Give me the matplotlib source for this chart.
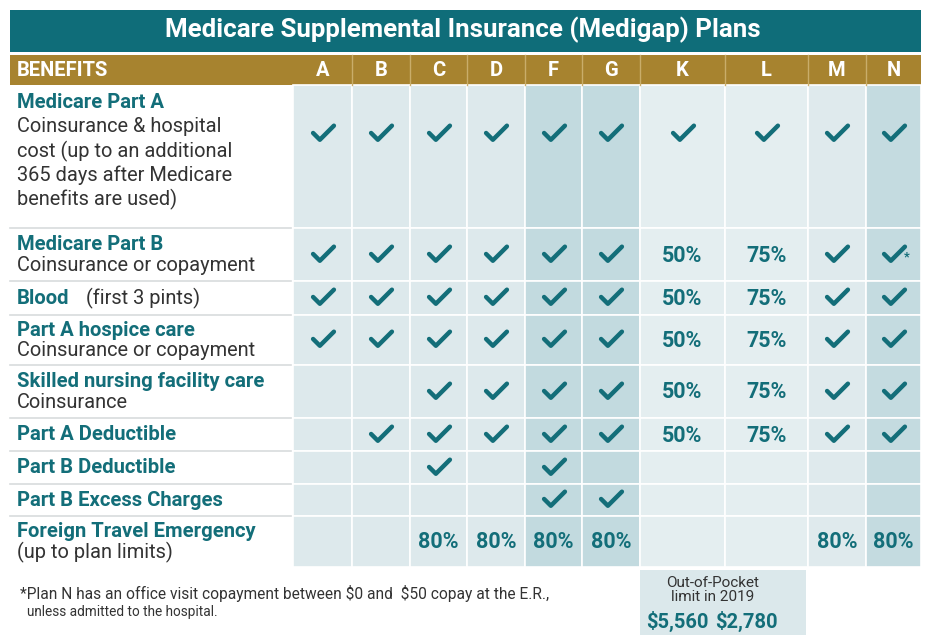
import matplotlib
matplotlib.use("Agg")
import matplotlib.pyplot as plt
from matplotlib.path import Path
from matplotlib.markers import MarkerStyle
from matplotlib.patches import Rectangle

# ---------------- data ----------------
title = "Medicare Supplemental Insurance (Medigap) Plans"
header_label = "BENEFITS"
plans = ["A", "B", "C", "D", "F", "G", "K", "L", "M", "N"]

benefit_titles = [
    "Medicare Part A",
    "Medicare Part B",
    "Blood",
    "Part A hospice care",
    "Skilled nursing facility care",
    "Part A Deductible",
    "Part B Deductible",
    "Part B Excess Charges",
    "Foreign Travel Emergency",
]
benefit_notes = [
    "Coinsurance & hospital\ncost (up to an additional\n365 days after Medicare\nbenefits are used)",
    "Coinsurance or copayment",
    "(first 3 pints)",
    "Coinsurance or copayment",
    "Coinsurance",
    "",
    "",
    "",
    "(up to plan limits)",
]

CHK = "check"
row_part_a = [CHK, CHK, CHK, CHK, CHK, CHK, CHK, CHK, CHK, CHK]
row_part_b = [CHK, CHK, CHK, CHK, CHK, CHK, "50%", "75%", CHK, CHK + "*"]
row_blood = [CHK, CHK, CHK, CHK, CHK, CHK, "50%", "75%", CHK, CHK]
row_hospice = [CHK, CHK, CHK, CHK, CHK, CHK, "50%", "75%", CHK, CHK]
row_snf = ["", "", CHK, CHK, CHK, CHK, "50%", "75%", CHK, CHK]
row_a_ded = ["", CHK, CHK, CHK, CHK, CHK, "50%", "75%", CHK, CHK]
row_b_ded = ["", "", CHK, "", CHK, "", "", "", "", ""]
row_excess = ["", "", "", "", CHK, CHK, "", "", "", ""]
row_foreign = ["", "", "80%", "80%", "80%", "80%", "", "", "80%", "80%"]
values = [row_part_a, row_part_b, row_blood, row_hospice, row_snf,
          row_a_ded, row_b_ded, row_excess, row_foreign]

oop_label = "Out-of-Pocket\nlimit in 2019"
oop_plans = ["K", "L"]
oop_values = ["$5,560", "$2,780"]
footnote = ["*Plan N has an office visit copayment between $0 and  $50 copay at the E.R.,",
            "unless admitted to the hospital."]

# ---------------- layout / style ----------------
W, H = 931, 641
TEAL = "#0f6d79"
TEXT_TEAL = "#136e79"
GOLD = "#a7832f"
DARK = "#333333"
col_edges = [293, 352, 410, 467, 525, 582, 640, 725, 808, 866, 921]
row_edges = [85, 228, 281, 315, 365, 418, 451, 484, 516, 567]
col_colors = ["#dde9ec", "#dde9ec", "#dde9ec", "#dde9ec", "#c2dadf", "#c2dadf",
              "#e4eef0", "#e4eef0", "#dfeaed", "#c4dbe0"]

plt.rcParams["font.family"] = ["Roboto", "DejaVu Sans"]
plt.rcParams["text.parse_math"] = False
fig = plt.figure(figsize=(W / 100, H / 100), dpi=100)
ax = fig.add_axes([0, 0, 1, 1])
ax.set_xlim(0, W)
ax.set_ylim(H, 0)
ax.axis("off")

LBL = 14.6
BODY = 14.4

# title bar
ax.add_patch(Rectangle((10, 10), 911, 42, color=TEAL, lw=0))
ax.text(463, 30, title, color="white", fontsize=18.6, fontweight="bold",
        ha="center", va="center")
# header bar
ax.add_patch(Rectangle((10, 55), 911, 30, color=GOLD, lw=0))
ax.text(17, 70.5, header_label, color="white", fontsize=14.5, fontweight="bold",
        ha="left", va="center")
for j, p in enumerate(plans):
    cx = (col_edges[j] + col_edges[j + 1]) / 2
    ax.text(cx, 70.5, p, color="white", fontsize=14.5, fontweight="bold",
            ha="center", va="center")
    if j > 0:
        ax.plot([col_edges[j], col_edges[j]], [55, 85], color="#c9ad6a", lw=1)

# cells
for i in range(len(values)):
    for j in range(len(plans)):
        x0, x1 = col_edges[j], col_edges[j + 1]
        y0, y1 = row_edges[i], row_edges[i + 1]
        ax.add_patch(Rectangle((x0, y0), x1 - x0, y1 - y0,
                               facecolor=col_colors[j], edgecolor="white", lw=1.2))
    if i > 0:
        ax.plot([10, 291], [row_edges[i], row_edges[i]], color="#d8dcdd", lw=1.2)

# check marker
check_path = Path([(-1.0, 0.05), (-0.35, -0.6), (1.0, 0.75)],
                  [Path.MOVETO, Path.LINETO, Path.LINETO])
check_marker = MarkerStyle(check_path, capstyle="round", joinstyle="round")

for i, row in enumerate(values):
    y0, y1 = row_edges[i], row_edges[i + 1]
    cy = 133 if i == 0 else (y0 + y1) / 2 - 1
    for j, v in enumerate(row):
        cx = (col_edges[j] + col_edges[j + 1]) / 2
        if v.startswith(CHK):
            ax.plot([cx], [cy], marker=check_marker, markersize=15,
                    markerfacecolor="none", markeredgecolor=TEXT_TEAL,
                    markeredgewidth=3.2, linestyle="none")
            if v.endswith("*"):
                ax.text(cx + 13, cy + 3, "*", color=TEXT_TEAL, fontsize=9,
                        fontweight="bold", ha="center", va="center")
        elif v:
            ax.text(cx, cy + 2, v, color=TEXT_TEAL, fontsize=15.5,
                    fontweight="bold", ha="center", va="center")

# benefit labels
for i, (t, n) in enumerate(zip(benefit_titles, benefit_notes)):
    y0, y1 = row_edges[i], row_edges[i + 1]
    if i == 0:
        ax.text(17, 102, t, color=TEXT_TEAL, fontsize=LBL, fontweight="bold",
                ha="left", va="center")
        for k, line in enumerate(n.split("\n")):
            ax.text(17, 127 + 24 * k, line, color=DARK, fontsize=BODY,
                    ha="left", va="center")
    elif i == 2:
        cy = (y0 + y1) / 2
        ax.text(17, cy, t, color=TEXT_TEAL, fontsize=LBL, fontweight="bold",
                ha="left", va="center")
        ax.text(86, cy, n, color=DARK, fontsize=BODY, ha="left", va="center")
    elif n:
        cy = (y0 + y1) / 2
        ax.text(17, cy - 10, t, color=TEXT_TEAL, fontsize=LBL, fontweight="bold",
                ha="left", va="center")
        ax.text(17, cy + 11, n, color=DARK, fontsize=BODY, ha="left", va="center")
    else:
        cy = (y0 + y1) / 2
        ax.text(17, cy, t, color=TEXT_TEAL, fontsize=LBL, fontweight="bold",
                ha="left", va="center")

# out-of-pocket box
k0 = col_edges[plans.index(oop_plans[0])]
ax.add_patch(Rectangle((k0, 570), 806 - k0, 65, color="#dbe8eb", lw=0))
ax.text(713, 590, oop_label, color=DARK, fontsize=11,
        ha="center", va="center", linespacing=1.0)
for p, v, xo in zip(oop_plans, oop_values, [677, 746]):
    ax.text(xo, 621, v, color=TEXT_TEAL, fontsize=14.5, fontweight="bold",
            ha="center", va="center")

# footnote
ax.text(20, 593, footnote[0], color=DARK, fontsize=11.2,
        ha="left", va="center")
ax.text(27, 612, footnote[1], color=DARK, fontsize=9.8,
        ha="left", va="center")

fig.savefig("out.png", dpi=100, facecolor="white")
